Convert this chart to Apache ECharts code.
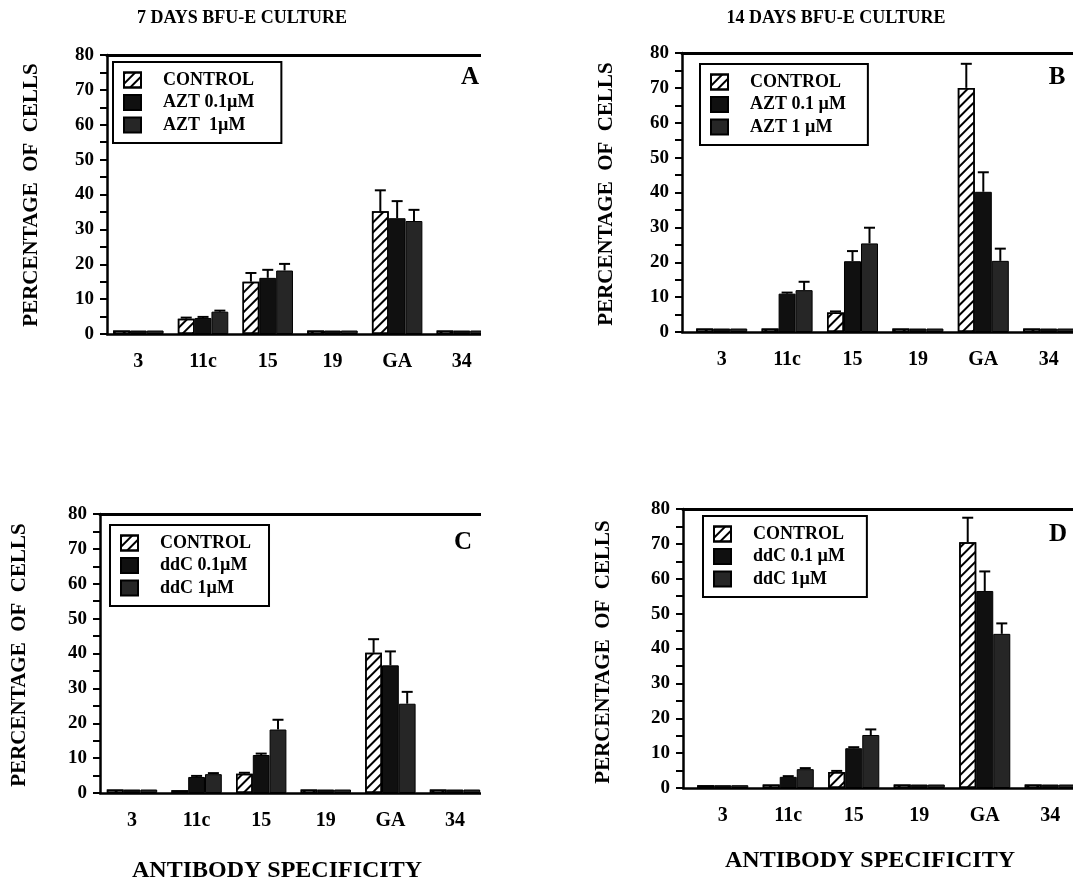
<!DOCTYPE html>
<html>
<head>
<meta charset="utf-8">
<script src="https://cdn.jsdelivr.net/npm/echarts@6/dist/echarts.min.js"></script>
<style>
  html, body { margin: 0; padding: 0; background: #fff; }
  #page { position: relative; width: 1073px; height: 882px; overflow: hidden; background: #fff; }
  .clip { position: absolute; overflow: hidden; }
  .inner { position: absolute; left: 0; top: 0; width: 640px; height: 441px; }
</style>
</head>
<body>
<div id="page">
  <div class="clip" style="left:0;top:0;width:481px;height:441px"><div class="inner" id="pA"></div></div>
  <div class="clip" style="left:481px;top:0;width:592px;height:441px"><div class="inner" id="pB"></div></div>
  <div class="clip" style="left:0;top:441px;width:481px;height:441px"><div class="inner" id="pC"></div></div>
  <div class="clip" style="left:481px;top:441px;width:592px;height:441px"><div class="inner" id="pD"></div></div>
</div>
<script>
// ---------- data ----------
const categories = ['3', '11c', '15', '19', 'GA', '34'];
const yTicks = [0, 10, 20, 30, 40, 50, 60, 70, 80];

// Panel A: 7 days, AZT
const aNames = ['CONTROL', 'AZT 0.1\u00b5M', 'AZT  1\u00b5M'];
const aControl = [1, 4.4, 15.0, 1, 35.2, 1];
const aControlErr = [0, 0.3, 2.5, 0, 6.0, 0];
const aLow = [1, 4.6, 16.1, 1, 33.2, 1];
const aLowErr = [0, 0.3, 2.3, 0, 4.9, 0];
const aHigh = [1, 6.4, 18.2, 1, 32.4, 1];
const aHighErr = [0, 0.3, 1.9, 0, 3.2, 0];

// Panel B: 14 days, AZT
const bNames = ['CONTROL', 'AZT 0.1 \u00b5M', 'AZT 1 \u00b5M'];
const bControl = [1, 1, 5.6, 1, 70.0, 1];
const bControlErr = [0, 0, 0.3, 0, 6.9, 0];
const bLow = [1, 11.0, 20.3, 1, 40.2, 1];
const bLowErr = [0, 0.3, 2.9, 0, 5.6, 0];
const bHigh = [1, 12.0, 25.4, 1, 20.4, 1];
const bHighErr = [0, 2.4, 4.5, 0, 3.5, 0];

// Panel C: 7 days, ddC
const cNames = ['CONTROL', 'ddC 0.1\u00b5M', 'ddC 1\u00b5M'];
const cControl = [1, 0.8, 5.5, 1, 40.2, 1];
const cControlErr = [0, 0, 0.3, 0, 3.9, 0];
const cLow = [1, 4.6, 10.9, 1, 36.6, 1];
const cLowErr = [0, 0.3, 0.4, 0, 4.0, 0];
const cHigh = [1, 5.4, 18.2, 1, 25.6, 1];
const cHighErr = [0, 0.3, 2.8, 0, 3.4, 0];

// Panel D: 14 days, ddC
const dNames = ['CONTROL', 'ddC 0.1 \u00b5M', 'ddC 1\u00b5M'];
const dControl = [0.8, 1.0, 4.6, 1, 70.5, 1];
const dControlErr = [0, 0, 0.3, 0, 7.0, 0];
const dLow = [0.8, 3.2, 11.4, 1, 56.5, 1];
const dLowErr = [0, 0.2, 0.3, 0, 5.6, 0];
const dHigh = [0.8, 5.4, 15.2, 1, 44.2, 1];
const dHighErr = [0, 0.3, 1.6, 0, 3.0, 0];

// ---------- styling / layout ----------
const FONT = '"Liberation Serif", "Times New Roman", serif';
const CAT_GAP = 0.22;
const seriesColors = ['#ffffff', '#101010', '#262626'];

const panels = [
  { id: 'pA', ox: 0, oy: 0, axisX: 107, top: 55, zero: 334, catStart: 106, catW: 64.7,
    names: aNames, vals: [aControl, aLow, aHigh], errs: [aControlErr, aLowErr, aHighErr],
    legend: { left: 113, top: 62, padR: 27 },
    title: { text: '7 DAYS BFU-E CULTURE', x: 242, y: 18 },
    letter: { text: 'A', x: 470, y: 78 }, ylab: { x: 32, y: 195 } },
  { id: 'pB', ox: 481, oy: 0, axisX: 682, top: 53, zero: 332, catStart: 689, catW: 65.4,
    names: bNames, vals: [bControl, bLow, bHigh], errs: [bControlErr, bLowErr, bHighErr],
    legend: { left: 700, top: 64, padR: 22 },
    title: { text: '14 DAYS BFU-E CULTURE', x: 836, y: 18 },
    letter: { text: 'B', x: 1057, y: 78 }, ylab: { x: 607, y: 194 } },
  { id: 'pC', ox: 0, oy: 441, axisX: 100, top: 514, zero: 793, catStart: 99.7, catW: 64.6,
    names: cNames, vals: [cControl, cLow, cHigh], errs: [cControlErr, cLowErr, cHighErr],
    legend: { left: 110, top: 525, padR: 18 },
    xtitle: { text: 'ANTIBODY SPECIFICITY', x: 277, y: 871 },
    letter: { text: 'C', x: 463, y: 543 }, ylab: { x: 20, y: 655 } },
  { id: 'pD', ox: 481, oy: 441, axisX: 683, top: 509, zero: 788, catStart: 690, catW: 65.5,
    names: dNames, vals: [dControl, dLow, dHigh], errs: [dControlErr, dLowErr, dHighErr],
    legend: { left: 703, top: 516, padR: 22 },
    xtitle: { text: 'ANTIBODY SPECIFICITY', x: 870, y: 861 },
    letter: { text: 'D', x: 1058, y: 535 }, ylab: { x: 604, y: 652 } }
];

function textEl(t, ox, oy, size, rot) {
  return {
    type: 'text', x: t.x - ox, y: t.y - oy, rotation: rot || 0, z: 50,
    style: { text: t.text, fill: '#000', font: 'bold ' + size + 'px ' + FONT,
             textAlign: 'center', textVerticalAlign: 'middle' }
  };
}

function build(p) {
  const ox = p.ox, oy = p.oy;
  const gTop = p.top - oy, gH = p.zero - p.top;
  const axisLineStyle = { color: '#000', width: 2.5 };
  const series = [];
  p.names.forEach((name, k) => {
    const item = { color: seriesColors[k], borderColor: '#000', borderWidth: k === 0 ? 1.5 : 1 };
    if (k === 0) {
      item.decal = { symbol: 'rect', symbolSize: 1, color: '#000',
                     dashArrayX: [1, 0], dashArrayY: [2, 5], rotation: -Math.PI / 4 };
    }
    series.push({
      name: name, type: 'bar', xAxisIndex: 2, yAxisIndex: 1,
      barGap: '0%', barCategoryGap: (CAT_GAP * 100) + '%',
      data: p.vals[k], itemStyle: item, emphasis: { disabled: true }, animation: false, z: 3
    });
  });
  p.names.forEach((name, k) => {
    const data = [];
    p.vals[k].forEach((v, i) => { if (p.errs[k][i] > 0) data.push([i, v, p.errs[k][i]]); });
    series.push({
      type: 'custom', xAxisIndex: 2, yAxisIndex: 1, z: 4, animation: false, silent: true,
      encode: { x: 0, y: 1 }, data: data,
      renderItem: function (params, api) {
        const i = api.value(0), v = api.value(1), e = api.value(2);
        const base = api.coord([i, v]);
        const tip = api.coord([i, v + e]);
        const bw = api.size([1, 0])[0];
        const barW = bw * (1 - CAT_GAP) / 3;
        const x = base[0] + (k - 1) * barW;
        const cap = 5.5;
        const st = { stroke: '#000', lineWidth: 2 };
        return { type: 'group', children: [
          { type: 'line', shape: { x1: x, y1: base[1], x2: x, y2: tip[1] }, style: st },
          { type: 'line', shape: { x1: x - cap, y1: tip[1], x2: x + cap, y2: tip[1] }, style: st }
        ] };
      }
    });
  });

  const graphic = [
    textEl(p.letter, ox, oy, 25),
    textEl({ text: 'PERCENTAGE  OF  CELLS', x: p.ylab.x, y: p.ylab.y }, ox, oy, 21, Math.PI / 2)
  ];
  if (p.title) graphic.push(textEl(p.title, ox, oy, 18));
  if (p.xtitle) graphic.push(textEl(p.xtitle, ox, oy, 24));

  return {
    backgroundColor: 'transparent',
    animation: false,
    grid: [
      { left: p.axisX - ox, top: gTop, height: gH, width: 640 - (p.axisX - ox) },
      { left: p.catStart - ox, top: gTop, height: gH, width: 6 * p.catW }
    ],
    xAxis: [
      { type: 'value', gridIndex: 0, min: 0, max: 1, axisLine: { show: true, lineStyle: axisLineStyle },
        axisTick: { show: false }, axisLabel: { show: false }, splitLine: { show: false } },
      { type: 'value', gridIndex: 0, position: 'top', min: 0, max: 1,
        axisLine: { show: true, lineStyle: { color: '#000', width: 3 } },
        axisTick: { show: false }, axisLabel: { show: false }, splitLine: { show: false } },
      { type: 'category', gridIndex: 1, data: categories, axisLine: { show: false },
        axisTick: { show: false }, splitLine: { show: false },
        axisLabel: { margin: 18, color: '#000', fontFamily: FONT, fontWeight: 'bold', fontSize: 20 } }
    ],
    yAxis: [
      { type: 'value', gridIndex: 0, min: yTicks[0], max: yTicks[yTicks.length - 1], interval: 10,
        axisLine: { show: true, lineStyle: axisLineStyle },
        axisTick: { show: true, length: 7, lineStyle: { color: '#000', width: 2 } },
        minorTick: { show: true, splitNumber: 2, length: 7, lineStyle: { color: '#000', width: 2 } },
        splitLine: { show: false },
        axisLabel: { margin: 13, color: '#000', fontFamily: FONT, fontWeight: 'bold', fontSize: 19 } },
      { type: 'value', gridIndex: 1, min: 0, max: 80, show: false }
    ],
    legend: {
      data: p.names, orient: 'vertical', left: p.legend.left - ox, top: p.legend.top - oy,
      padding: [9, p.legend.padR, 9, 10], itemWidth: 17, itemHeight: 15, itemGap: 4.5,
      borderColor: '#000', borderWidth: 2, backgroundColor: '#fff', selectedMode: false,
      icon: 'rect',
      textStyle: { color: '#000', fontFamily: FONT, fontWeight: 'bold', fontSize: 18, padding: [0, 0, 0, 17] }
    },
    graphic: graphic,
    series: series
  };
}

panels.forEach(p => {
  const chart = echarts.init(document.getElementById(p.id), null, { renderer: 'canvas' });
  chart.setOption(build(p));
});
</script>
</body>
</html>
